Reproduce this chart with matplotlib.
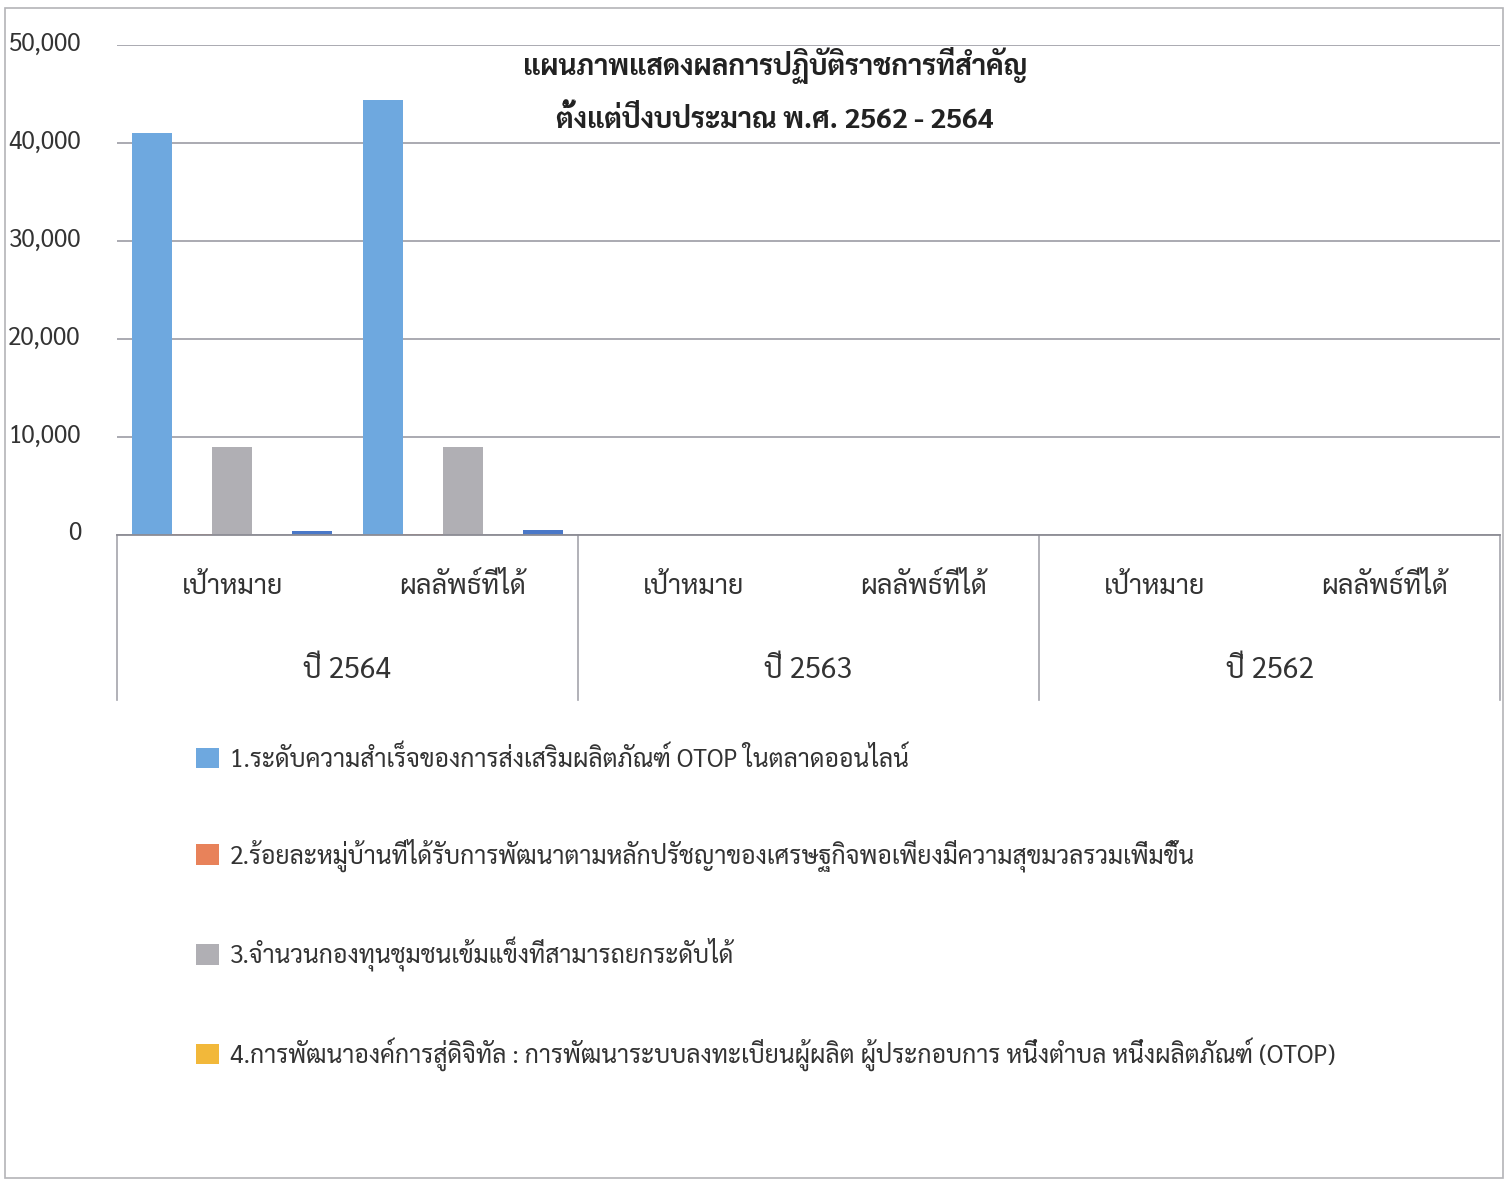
import numpy as np
import matplotlib
matplotlib.use("Agg")
import matplotlib.pyplot as plt
from matplotlib import font_manager
from matplotlib.ft2font import FT2Font
from matplotlib.lines import Line2D
from matplotlib.patches import Rectangle
import matplotlib.transforms as mtransforms

# -----------------------------
# Data
# -----------------------------
years = ["ปี 2564", "ปี 2563", "ปี 2562"]
sub_labels = ["เป้าหมาย", "ผลลัพธ์ที่ได้"]

series_names = [
    "1.ระดับความสำเร็จของการส่งเสริมผลิตภัณฑ์ OTOP ในตลาดออนไลน์",
    "2.ร้อยละหมู่บ้านที่ได้รับการพัฒนาตามหลักปรัชญาของเศรษฐกิจพอเพียงมีความสุขมวลรวมเพิ่มขึ้น",
    "3.จำนวนกองทุนชุมชนเข้มแข็งที่สามารถยกระดับได้",
    "4.การพัฒนาองค์การสู่ดิจิทัล : การพัฒนาระบบลงทะเบียนผู้ผลิต ผู้ประกอบการ หนึ่งตำบล หนึ่งผลิตภัณฑ์ (OTOP)",
]

# 6 categories: (2564 target, 2564 result, 2563 target, ...)
otop_online = [41000, 44400, 0, 0, 0, 0]
village_pct = [120, 120, 0, 0, 0, 0]
fund_upgrade = [9000, 9000, 0, 0, 0, 0]
digital_org = [0, 0, 0, 0, 0, 0]
extra_series = [400, 500, 0, 0, 0, 0]

yticks = [0, 10000, 20000, 30000, 40000, 50000]

title_lines = [
    "แผนภาพแสดงผลการปฏิบัติราชการที่สำคัญ",
    "ตั้งแต่ปีงบประมาณ พ.ศ. 2562 - 2564",
]

colors = ["#6EA8DF", "#E8825A", "#B0AFB4", "#F2B83A", "#4A78C8"]

# -----------------------------
# Font with Thai glyphs
# -----------------------------
def find_thai_family():
    found = []
    for f in font_manager.fontManager.ttflist:
        try:
            if 0x0E01 in FT2Font(f.fname).get_charmap():
                found.append(f.name)
        except Exception:
            pass
    prefs = ["Tahoma", "Sarabun", "Noto Sans Thai", "Loma", "Garuda",
             "Norasi", "Kinnari", "Umpush", "Waree"]
    for p in prefs:
        for name in found:
            if p.lower() in name.lower():
                return name
    return found[0] if found else "DejaVu Sans"


thai = find_thai_family()
plt.rcParams["font.family"] = [thai, "DejaVu Sans"]

# -----------------------------
# Figure layout (pixel based)
# -----------------------------
W, H = 1506, 1184
fig = plt.figure(figsize=(W / 100, H / 100), dpi=100)

x0, x1 = 117, 1500
y_top, y_zero = 45, 535
ax = fig.add_axes([x0 / W, 1 - y_zero / H, (x1 - x0) / W, (y_zero - y_top) / H])

# outer frame
fig.add_artist(Rectangle((5 / W, 1 - 1178 / H), 1498 / W, 1170 / H,
                         transform=fig.transFigure, fill=False,
                         edgecolor="#b4b4b8", linewidth=1.2))

# -----------------------------
# Bars
# -----------------------------
all_series = [otop_online, village_pct, fund_upgrade, digital_org, extra_series]
n_cat = len(otop_online)
x = np.arange(n_cat)
bw = 40 / ((x1 - x0) / n_cat)
offsets = (np.arange(len(all_series)) - (len(all_series) - 1) / 2) * bw

handles = []
for i, vals in enumerate(all_series):
    b = ax.bar(x + offsets[i], vals, width=bw, color=colors[i], zorder=3)
    handles.append(b)

ax.set_xlim(-0.5, n_cat - 0.5)
ax.set_ylim(0, 50000)
ax.set_yticks(yticks)
ax.set_yticklabels([f"{v:,}" for v in yticks], fontsize=17.5, color="#333333")
ax.tick_params(axis="y", length=0, pad=26)
shift_up = mtransforms.ScaledTranslation(0, 4 / 100, fig.dpi_scale_trans)
for lbl in ax.get_yticklabels():
    lbl.set_transform(lbl.get_transform() + shift_up)
ax.set_xticks([])
ax.grid(axis="y", color="#9c9ca4", linewidth=1.2, zorder=0)
for s in ax.spines.values():
    s.set_visible(False)

# -----------------------------
# Multi-level category axis
# -----------------------------
span = y_zero - y_top
trans = mtransforms.blended_transform_factory(ax.transData, ax.transAxes)
bottom = -(700 - y_zero) / span

ax.add_line(Line2D([-0.5, n_cat - 0.5], [0, 0], transform=trans,
                   color="#8c8c94", linewidth=1.3, clip_on=False, zorder=4))
for xs in np.arange(-0.5, n_cat, 2):
    ax.add_line(Line2D([xs, xs], [0, bottom], transform=trans,
                       color="#a4a4ac", linewidth=1.2, clip_on=False))

for i in range(n_cat):
    ax.text(i, -(587 - y_zero) / span, sub_labels[i % 2], transform=trans,
            ha="center", va="center", fontsize=19.5, color="#333333")
for j, yr in enumerate(years):
    ax.text(2 * j + 0.5, -(670 - y_zero) / span, yr, transform=trans,
            ha="center", va="center", fontsize=20.5, color="#333333")

# -----------------------------
# Title
# -----------------------------
fig.text(775 / W, 1 - 65 / H, title_lines[0], ha="center", va="center",
         fontsize=20.2, fontweight="bold", color="#222222")
fig.text(775 / W, 1 - 120 / H, title_lines[1], ha="center", va="center",
         fontsize=20.2, fontweight="bold", color="#222222")

# -----------------------------
# Legend
# -----------------------------
fig.legend(handles[:4], series_names, loc="upper left",
           bbox_to_anchor=(174 / W, 1 - 724 / H), frameon=False,
           fontsize=17.8, labelcolor="#333333",
           handlelength=0.9, handleheight=0.9, handletextpad=0.45,
           labelspacing=2.64)

fig.savefig("out.png", dpi=100)
